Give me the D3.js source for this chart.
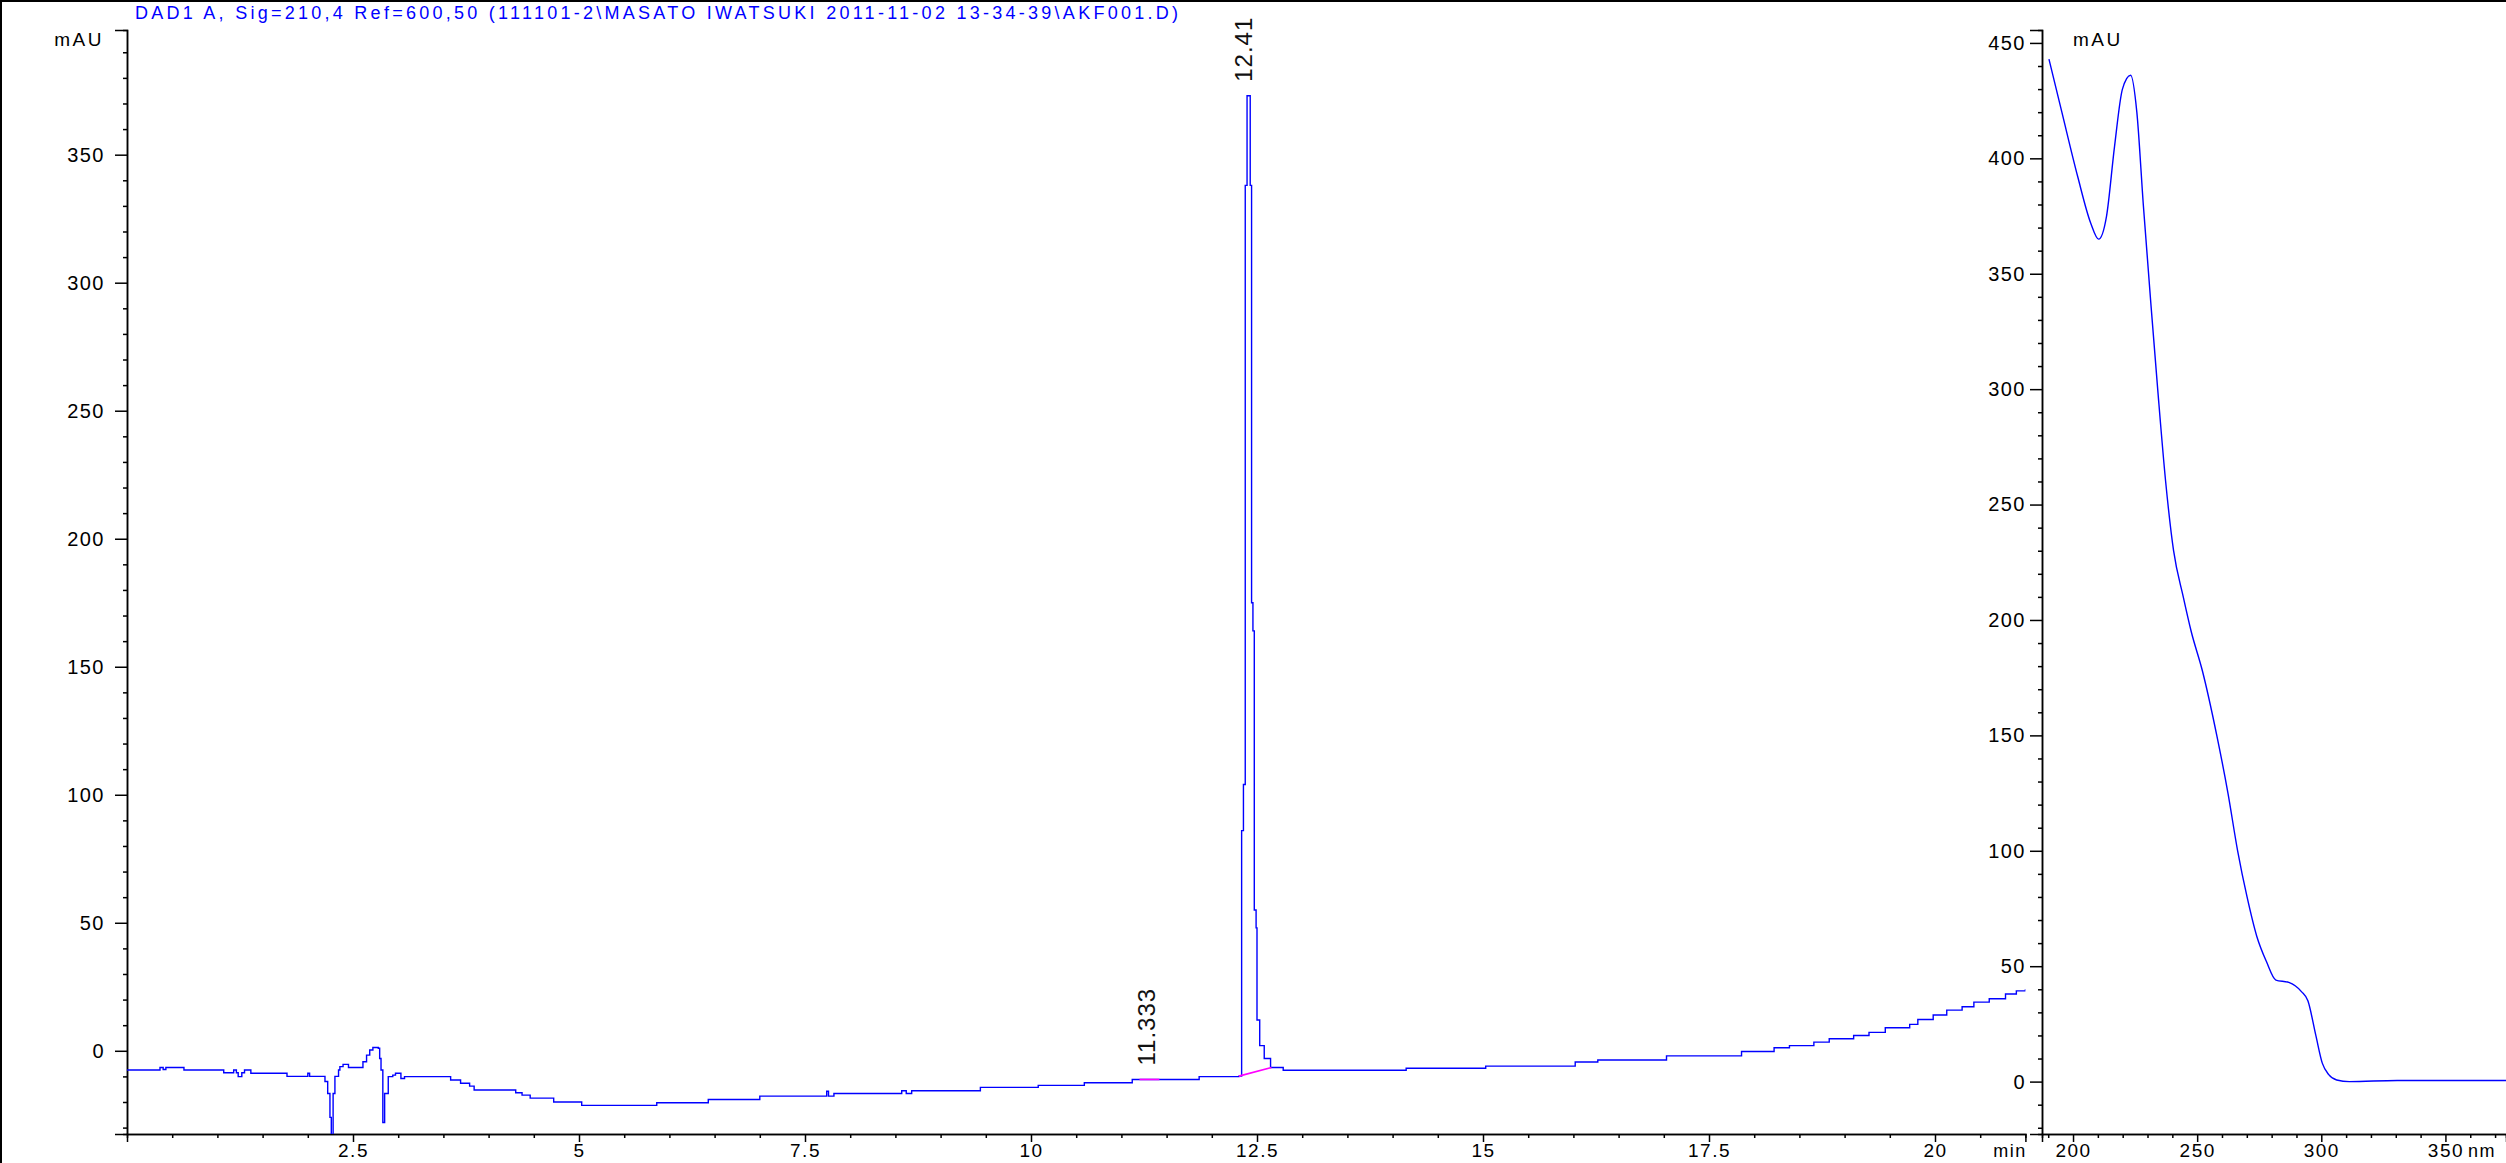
<!DOCTYPE html>
<html>
<head>
<meta charset="utf-8">
<script src="https://cdn.jsdelivr.net/npm/d3@7"></script>
<style>
  html, body { margin: 0; padding: 0; background: #ffffff; }
  svg { display: block; }
  text { font-family: "Liberation Sans", Arial, sans-serif; }
</style>
</head>
<body>
<script>
// ---------- DATA ----------
const titleText = "DAD1 A, Sig=210,4 Ref=600,50 (111101-2\\MASATO IWATSUKI 2011-11-02 13-34-39\\AKF001.D)";

// chromatogram (retention time in min, signal in mAU)
const chromTime = [0, 0.365, 0.40, 0.43, 0.63, 1.07, 1.18, 1.21, 1.23, 1.27, 1.30, 1.37, 1.77, 2.00, 2.02,
  2.19, 2.22, 2.245, 2.26, 2.28, 2.30, 2.34, 2.355, 2.39, 2.45, 2.61, 2.65, 2.685, 2.72, 2.78, 2.795, 2.81,
  2.83, 2.85, 2.89, 2.94, 2.97, 3.03, 3.07, 3.58, 3.69, 3.79, 3.84, 4.30, 4.37, 4.46, 4.72, 5.03, 5.86,
  6.43, 7.00, 7.74, 7.76, 7.82, 8.57, 8.62, 8.68, 9.44, 10.08, 10.59, 11.12, 11.86, 12.30,
  12.33, 12.35, 12.37, 12.39, 12.425, 12.44, 12.455, 12.47, 12.49, 12.50, 12.53, 12.58,
  12.65, 12.79, 14.15, 15.03, 16.02, 16.27, 17.03, 17.86, 18.22, 18.39, 18.66, 18.83, 19.10, 19.27,
  19.45, 19.72, 19.81, 19.98, 20.13, 20.30, 20.43, 20.60, 20.78, 20.90, 21.0];
const chromValue = [-7.5, -6.5, -7.3, -6.5, -7.5, -8.6, -7.5, -8.6, -10.1, -8.6, -7.5, -8.8, -10.0, -8.8, -10.0,
  -12.0, -16.7, -26.0, -34.0, -16.7, -10.0, -7.5, -6.2, -5.3, -6.5, -4.3, -1.7, 0.3, 1.3, 1.0, -3.0, -7.5,
  -28.0, -16.7, -10.1, -9.5, -8.8, -10.8, -10.1, -11.4, -12.7, -13.8, -15.3, -16.4, -17.3, -18.5, -20.0, -21.3, -20.3,
  -19.0, -17.7, -15.8, -17.7, -16.7, -15.6, -16.7, -15.6, -14.3, -13.5, -12.5, -11.2, -10.1, -9.9,
  86, 104, 338, 373, 338, 175, 164, 55, 48, 12, 2, -3.0,
  -6.5, -7.6, -6.8, -6.0, -4.4, -3.6, -2.0, -0.3, 1.2, 2.0, 3.4, 4.7, 6.0, 7.2,
  9.0, 10.3, 12.2, 14.0, 15.9, 17.2, 19.0, 20.3, 22.2, 23.4, 24.0];

// integration baselines (pink)
const baseStartTime = [11.20, 12.30];
const baseStartValue = [-11.2, -9.9];
const baseEndTime = [11.42, 12.66];
const baseEndValue = [-11.2, -6.5];

// peak labels
const peakTime = [11.333, 12.41];
const peakValue = [-11.2, 373];
const peakLabel = ["11.333", "12.41"];

// axis ticks
const chromXTicks = [2.5, 5, 7.5, 10, 12.5, 15, 17.5, 20];
const chromYTicks = [0, 50, 100, 150, 200, 250, 300, 350];

// UV spectrum (nm, mAU)
const specNm = [190.3, 195.5, 201.9, 207.1, 210.3, 213.5, 216.7, 219.9, 223.2, 225.7, 228.3, 231.5, 234.1,
  237.3, 240.5, 244.4, 247.6, 252.1, 257.9, 262.4, 266.3, 270.1, 274.0, 277.9, 281.7, 286.9, 292.0, 294.6,
  297.8, 300.4, 303.0, 306.2, 311.3, 330.6, 350.0, 374.4];
const specValue = [443, 420, 392, 372, 365, 375, 405, 430, 436, 420, 380, 335, 300,
  260, 230, 210, 195, 178, 150, 125, 100, 80, 63, 52, 44, 43, 39, 35,
  20, 8, 3, 0.7, 0, 0.5, 0.5, 0.5];
const specXTicks = [200, 250, 300, 350];
const specYTicks = [0, 50, 100, 150, 200, 250, 300, 350, 400, 450];

// ---------- DRAW ----------
const W = 2506, H = 1163;
const svg = d3.select("body").append("svg").attr("width", W).attr("height", H);
svg.append("rect").attr("width", W).attr("height", H).attr("fill", "#fff");

// frame lines top/left
svg.append("line").attr("x1", 0).attr("x2", W).attr("y1", 1).attr("y2", 1).attr("stroke", "#000").attr("stroke-width", 2);
svg.append("line").attr("x1", 1).attr("x2", 1).attr("y1", 0).attr("y2", H).attr("stroke", "#000").attr("stroke-width", 2);

// title
svg.append("text").attr("x", 135).attr("y", 19)
  .attr("fill", "#0000ff").attr("font-size", 18)
  .attr("textLength", 1043).attr("lengthAdjust", "spacing")
  .text(titleText);

const x = d3.scaleLinear().domain([0, 21]).range([127, 2025.4]);
const y = d3.scaleLinear().domain([-32.5, 398.7]).range([1134, 30]);

const xr = d3.scaleLinear().domain([187.5, 374.4]).range([2042, 2506]);
const yr = d3.scaleLinear().domain([-22.7, 455.6]).range([1134, 30]);

function styleAxis(g, fs) {
  g.selectAll("path.domain").attr("stroke", "#000").attr("stroke-width", 1.5);
  g.selectAll(".tick line").attr("stroke", "#000").attr("stroke-width", 1.5);
  g.selectAll(".tick text").attr("fill", "#000").attr("font-size", fs)
    .attr("font-family", "'Liberation Sans', Arial, sans-serif").attr("letter-spacing", "1.5px");
}
const fmt = d => String(d);

// ---- left chromatogram ----
const minorY = d3.range(-30, 400, 10).filter(v => v % 50 !== 0);
const minorX = d3.range(0.5, 21, 0.5).filter(v => Math.abs(v / 2.5 - Math.round(v / 2.5)) > 1e-6);

const gYm = svg.append("g").attr("transform", `translate(${x(0)},0)`)
  .call(d3.axisLeft(y).tickValues(minorY).tickSize(4).tickFormat(""));
styleAxis(gYm, 20);
const gY = svg.append("g").attr("transform", `translate(${x(0)},0)`)
  .call(d3.axisLeft(y).tickValues(chromYTicks).tickSize(12).tickPadding(10).tickFormat(fmt));
styleAxis(gY, 20);

const gXm = svg.append("g").attr("transform", `translate(0,${y(-32.5)})`)
  .call(d3.axisBottom(x).tickValues(minorX).tickSize(4).tickFormat(""));
styleAxis(gXm, 19);
const gX = svg.append("g").attr("transform", `translate(0,${y(-32.5)})`)
  .call(d3.axisBottom(x).tickValues(chromXTicks).tickSize(8).tickPadding(2).tickFormat(fmt));
styleAxis(gX, 19);

svg.append("text").attr("x", 104).attr("y", 46).attr("text-anchor", "end")
  .attr("font-size", 19).attr("letter-spacing", "2.5px").attr("fill", "#000").text("mAU");
svg.append("text").attr("x", x(20.83)).attr("y", 1157).attr("text-anchor", "middle")
  .attr("font-size", 18).attr("letter-spacing", "1.5px").attr("fill", "#000").text("min");

svg.append("clipPath").attr("id", "clipL").append("rect")
  .attr("x", x(0)).attr("y", 30).attr("width", x(21) - x(0)).attr("height", y(-32.5) - 30);

const chromData = chromTime.map((t, i) => [t, chromValue[i]]);
svg.append("path").datum(chromData)
  .attr("clip-path", "url(#clipL)")
  .attr("fill", "none").attr("stroke", "#0000ff").attr("stroke-width", 1.4)
  .attr("d", d3.line().x(d => x(d[0])).y(d => y(d[1])).curve(d3.curveStepAfter));

baseStartTime.forEach((t, i) => {
  svg.append("line")
    .attr("x1", x(t)).attr("y1", y(baseStartValue[i]))
    .attr("x2", x(baseEndTime[i])).attr("y2", y(baseEndValue[i]))
    .attr("stroke", "#ff00ff").attr("stroke-width", 1.6);
});

peakTime.forEach((t, i) => {
  const px = x(t) - 5, py = y(peakValue[i]) - 14;
  svg.append("text")
    .attr("transform", `translate(${px},${py}) rotate(-90)`)
    .attr("dy", "0.35em").attr("text-anchor", "start")
    .attr("font-size", 24).attr("letter-spacing", "1px").attr("fill", "#111")
    .text(peakLabel[i]);
});

// ---- right spectrum ----
const minorYR = d3.range(-20, 456, 10).filter(v => v % 50 !== 0);
const minorXR = d3.range(190, 375, 10).filter(v => v % 50 !== 0);

const gYRm = svg.append("g").attr("transform", `translate(${xr(187.5)},0)`)
  .call(d3.axisLeft(yr).tickValues(minorYR).tickSize(4).tickFormat(""));
styleAxis(gYRm, 20);
const gYR = svg.append("g").attr("transform", `translate(${xr(187.5)},0)`)
  .call(d3.axisLeft(yr).tickValues(specYTicks).tickSize(12).tickPadding(4).tickFormat(fmt));
styleAxis(gYR, 20);

const gXRm = svg.append("g").attr("transform", `translate(0,${yr(-22.7)})`)
  .call(d3.axisBottom(xr).tickValues(minorXR).tickSize(4).tickFormat(""));
styleAxis(gXRm, 19);
const gXR = svg.append("g").attr("transform", `translate(0,${yr(-22.7)})`)
  .call(d3.axisBottom(xr).tickValues(specXTicks).tickSize(8).tickPadding(2).tickFormat(fmt));
styleAxis(gXR, 19);

svg.append("text").attr("x", 2073).attr("y", 46).attr("text-anchor", "start")
  .attr("font-size", 19).attr("letter-spacing", "2.5px").attr("fill", "#000").text("mAU");
svg.append("text").attr("x", 2482).attr("y", 1157).attr("text-anchor", "middle")
  .attr("font-size", 18).attr("letter-spacing", "1.5px").attr("fill", "#000").text("nm");

svg.append("clipPath").attr("id", "clipR").append("rect")
  .attr("x", xr(187.5)).attr("y", 30).attr("width", W - xr(187.5)).attr("height", yr(-22.7) - 30);

const specData = specNm.map((n, i) => [n, specValue[i]]);
svg.append("path").datum(specData)
  .attr("clip-path", "url(#clipR)")
  .attr("fill", "none").attr("stroke", "#0000ff").attr("stroke-width", 1.4)
  .attr("d", d3.line().x(d => xr(d[0])).y(d => yr(d[1])).curve(d3.curveMonotoneX));
</script>
</body>
</html>
